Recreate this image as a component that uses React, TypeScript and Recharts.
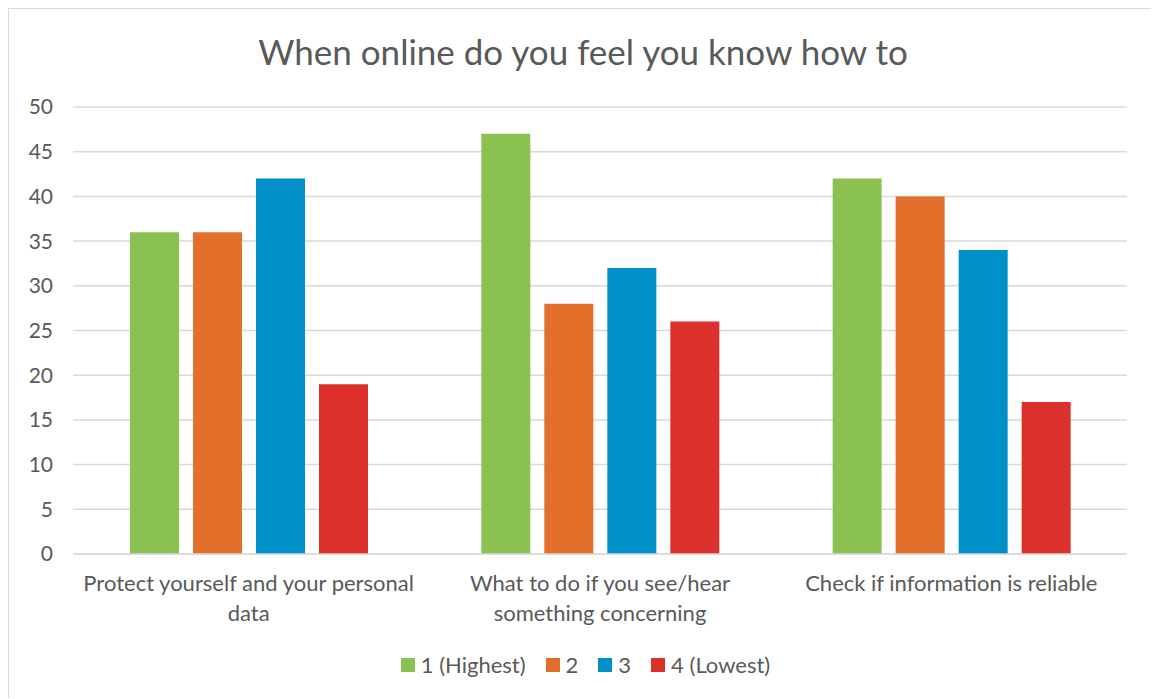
import React from 'react';
import { BarChart, Bar, XAxis, YAxis, CartesianGrid, Legend } from 'recharts';

const categories = [
  'Protect yourself and your personal data',
  'What to do if you see/hear something concerning',
  'Check if information is reliable',
];
const highest = [36, 47, 42];
const second = [36, 28, 40];
const third = [42, 32, 34];
const lowest = [19, 26, 17];
const yTicks = [0, 5, 10, 15, 20, 25, 30, 35, 40, 45, 50];

const series = [
  { key: 'h', name: '1 (Highest)', color: '#8BC151' },
  { key: 's', name: '2', color: '#E2702A' },
  { key: 't', name: '3', color: '#0090C8' },
  { key: 'l', name: '4 (Lowest)', color: '#DC302C' },
];

const data = categories.map((name, i) => ({
  name,
  h: highest[i],
  s: second[i],
  t: third[i],
  l: lowest[i],
}));

const FONT = 'Lato, "Open Sans", sans-serif';
const TEXT = '#595959';
const LABEL_SIZE = 22;

// wrap a label to the category width using canvas text measurement
function wrapLabel(text: string, maxWidth: number): string[] {
  const ctx = document.createElement('canvas').getContext('2d');
  if (!ctx) return [text];
  ctx.font = `${LABEL_SIZE}px ${FONT}`;
  const lines: string[] = [];
  let current = '';
  for (const word of text.split(' ')) {
    const next = current ? `${current} ${word}` : word;
    if (current && ctx.measureText(next).width > maxWidth) {
      lines.push(current);
      current = word;
    } else {
      current = next;
    }
  }
  if (current) lines.push(current);
  return lines;
}

function CategoryTick(props: any) {
  const { x, y, payload } = props;
  const lines = wrapLabel(payload.value, 345);
  return (
    <text
      x={x}
      y={y + 9}
      textAnchor="middle"
      fill={TEXT}
      style={{ fontSize: LABEL_SIZE, fontFamily: FONT }}
    >
      {lines.map((line, i) => (
        <tspan key={i} x={x} dy={i === 0 ? '0.9em' : 30}>
          {line}
        </tspan>
      ))}
    </text>
  );
}

function LegendRow(props: any) {
  const { payload } = props;
  return (
    <div
      style={{
        display: 'flex',
        justifyContent: 'center',
        alignItems: 'center',
        gap: 20,
        paddingLeft: 5,
        fontSize: 22,
        fontFamily: FONT,
        color: TEXT,
      }}
    >
      {(payload || []).map((entry: any) => (
        <div key={entry.value} style={{ display: 'flex', alignItems: 'center', gap: 6 }}>
          <span style={{ width: 14, height: 14, background: entry.color, display: 'inline-block' }} />
          <span>{entry.value}</span>
        </div>
      ))}
    </div>
  );
}

export default function App() {
  return (
    <div
      style={{
        width: 1150,
        height: 690,
        border: '1px solid #d9d9d9',
        borderBottom: 'none',
        boxSizing: 'border-box',
        background: '#fff',
        position: 'relative',
        fontFamily: FONT,
      }}
    >
      <div
        style={{
          position: 'absolute',
          top: 21,
          left: 0,
          width: '100%',
          textAlign: 'center',
          fontSize: 35,
          color: TEXT,
        }}
      >
        When online do you feel you know how to
      </div>
      <BarChart
        width={1148}
        height={689}
        data={data}
        margin={{ top: 98, right: 30, left: 0, bottom: 17 }}
        barCategoryGap={57}
        barGap={14}
      >
        <CartesianGrid vertical={false} stroke="#d9d9d9" strokeWidth={1.5} />
        <XAxis
          dataKey="name"
          height={100}
          axisLine={{ stroke: '#d9d9d9', strokeWidth: 1.5 }}
          tickLine={false}
          interval={0}
          tick={<CategoryTick />}
        />
        <YAxis
          width={64}
          domain={[0, 50]}
          ticks={yTicks}
          axisLine={false}
          tickLine={false}
          tickSize={0}
          tickMargin={20}
          tick={{ fill: TEXT, fontSize: 21, fontFamily: FONT }}
        />
        <Legend
          verticalAlign="bottom"
          align="center"
          content={<LegendRow />}
          wrapperStyle={{ bottom: 20, left: 0, width: 1148 }}
        />
        {series.map((s) => (
          <Bar key={s.key} dataKey={s.key} name={s.name} fill={s.color} isAnimationActive={false} />
        ))}
      </BarChart>
    </div>
  );
}
